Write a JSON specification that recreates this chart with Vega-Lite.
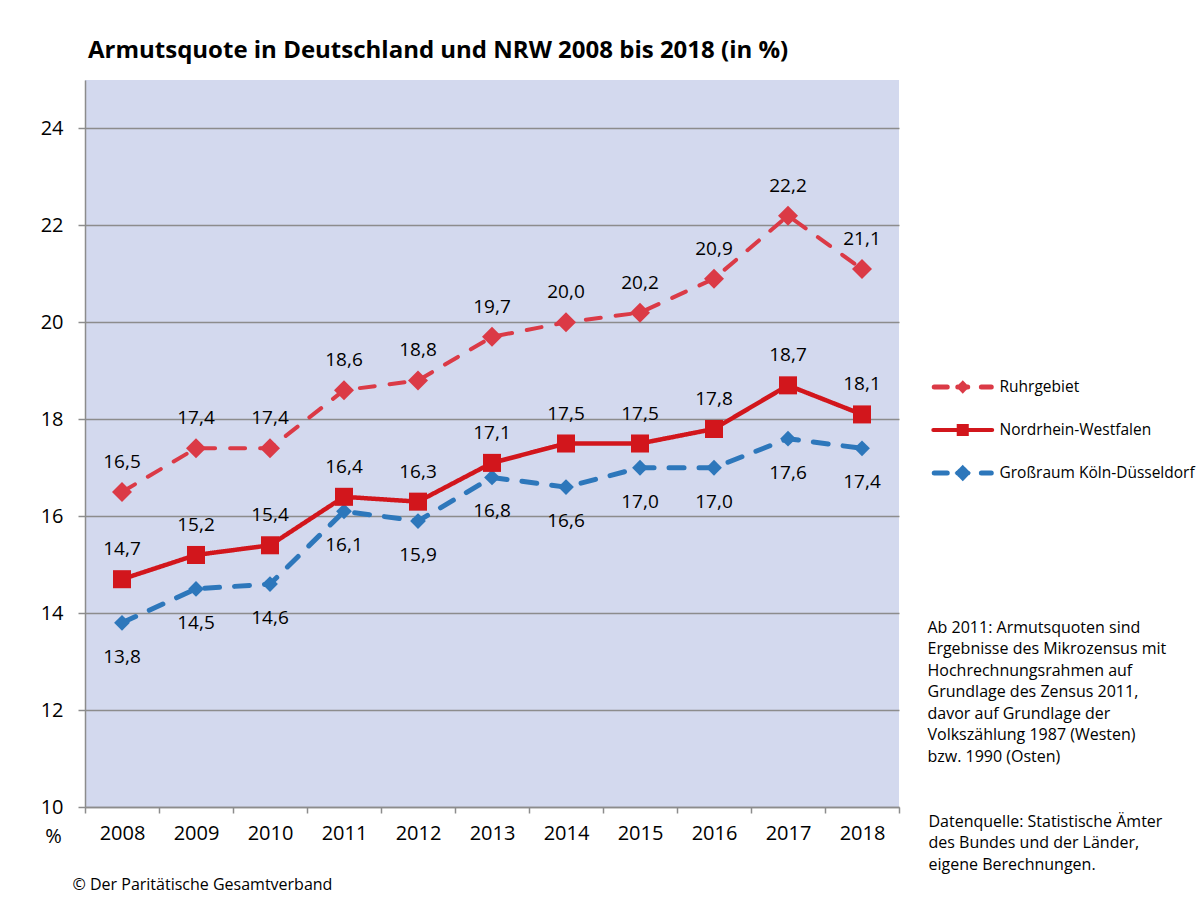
{
  "$schema": "https://vega.github.io/schema/vega-lite/v6.json",
  "width": 814,
  "height": 727,
  "autosize": {"type": "none"},
  "padding": {"left": 85, "top": 80, "right": 298, "bottom": 98},
  "background": "white",
  "config": {
    "font": "Open Sans",
    "view": {"fill": "#d3d9ee", "stroke": null},
    "locale": {"number": {"decimal": ",", "thousands": ".", "grouping": [3], "currency": ["", " €"]}}
  },
  "title": {
    "text": "Armutsquote in Deutschland und NRW 2008 bis 2018 (in %)",
    "anchor": "start",
    "frame": "group",
    "font": "Open Sans",
    "fontSize": 24,
    "fontWeight": "bold",
    "color": "#000000",
    "baseline": "alphabetic",
    "offset": 23,
    "dx": 3,
    "dy": 25
  },
  "data": {
    "values": [
      {"year": "2008", "series": "Ruhrgebiet", "value": 16.5},
      {"year": "2009", "series": "Ruhrgebiet", "value": 17.4},
      {"year": "2010", "series": "Ruhrgebiet", "value": 17.4},
      {"year": "2011", "series": "Ruhrgebiet", "value": 18.6},
      {"year": "2012", "series": "Ruhrgebiet", "value": 18.8},
      {"year": "2013", "series": "Ruhrgebiet", "value": 19.7},
      {"year": "2014", "series": "Ruhrgebiet", "value": 20.0},
      {"year": "2015", "series": "Ruhrgebiet", "value": 20.2},
      {"year": "2016", "series": "Ruhrgebiet", "value": 20.9},
      {"year": "2017", "series": "Ruhrgebiet", "value": 22.2},
      {"year": "2018", "series": "Ruhrgebiet", "value": 21.1},
      {"year": "2008", "series": "Großraum Köln-Düsseldorf", "value": 13.8},
      {"year": "2009", "series": "Großraum Köln-Düsseldorf", "value": 14.5},
      {"year": "2010", "series": "Großraum Köln-Düsseldorf", "value": 14.6},
      {"year": "2011", "series": "Großraum Köln-Düsseldorf", "value": 16.1},
      {"year": "2012", "series": "Großraum Köln-Düsseldorf", "value": 15.9},
      {"year": "2013", "series": "Großraum Köln-Düsseldorf", "value": 16.8},
      {"year": "2014", "series": "Großraum Köln-Düsseldorf", "value": 16.6},
      {"year": "2015", "series": "Großraum Köln-Düsseldorf", "value": 17.0},
      {"year": "2016", "series": "Großraum Köln-Düsseldorf", "value": 17.0},
      {"year": "2017", "series": "Großraum Köln-Düsseldorf", "value": 17.6},
      {"year": "2018", "series": "Großraum Köln-Düsseldorf", "value": 17.4},
      {"year": "2008", "series": "Nordrhein-Westfalen", "value": 14.7},
      {"year": "2009", "series": "Nordrhein-Westfalen", "value": 15.2},
      {"year": "2010", "series": "Nordrhein-Westfalen", "value": 15.4},
      {"year": "2011", "series": "Nordrhein-Westfalen", "value": 16.4},
      {"year": "2012", "series": "Nordrhein-Westfalen", "value": 16.3},
      {"year": "2013", "series": "Nordrhein-Westfalen", "value": 17.1},
      {"year": "2014", "series": "Nordrhein-Westfalen", "value": 17.5},
      {"year": "2015", "series": "Nordrhein-Westfalen", "value": 17.5},
      {"year": "2016", "series": "Nordrhein-Westfalen", "value": 17.8},
      {"year": "2017", "series": "Nordrhein-Westfalen", "value": 18.7},
      {"year": "2018", "series": "Nordrhein-Westfalen", "value": 18.1}
    ]
  },
  "layer": [
    {
      "encoding": {
        "x": {
          "field": "year",
          "type": "ordinal",
          "bandPosition": 0.5,
          "scale": {"type": "band", "paddingInner": 0, "paddingOuter": 0},
          "axis": {
            "tickBand": "extent",
            "labelAngle": 0,
            "labelFontSize": 20,
            "labelColor": "#000000",
            "labelBaseline": "middle",
            "labelPadding": 20,
            "tickSize": 6,
            "tickColor": "#8c8c8c",
            "tickWidth": 1.5,
            "domainColor": "#8c8c8c",
            "domainWidth": 1.5,
            "grid": false,
            "title": "© Der Paritätische Gesamtverband",
            "titleX": -13,
            "titleY": 77,
            "titleAlign": "left",
            "titleBaseline": "middle",
            "titleFontSize": 16,
            "titleFontWeight": "normal",
            "titleColor": "#000000"
          }
        },
        "y": {
          "field": "value",
          "type": "quantitative",
          "scale": {"domain": [10, 25], "nice": false, "zero": false},
          "axis": {
            "values": [10, 12, 14, 16, 18, 20, 22, 24],
            "grid": true,
            "gridColor": "#8c8c8c",
            "gridWidth": 1.5,
            "tickSize": 7,
            "tickColor": "#8c8c8c",
            "tickWidth": 1.5,
            "domainColor": "#8c8c8c",
            "domainWidth": 1.5,
            "labelFontSize": 20,
            "labelColor": "#000000",
            "labelPadding": 15,
            "title": "%",
            "titleAngle": 0,
            "titleX": -32,
            "titleY": 756,
            "titleAlign": "center",
            "titleBaseline": "middle",
            "titleFontSize": 20,
            "titleFontWeight": "normal",
            "titleColor": "#000000"
          }
        }
      },
      "layer": [
        {
          "mark": {"type": "line", "strokeCap": "round", "strokeJoin": "round"},
          "encoding": {
            "color": {
              "field": "series",
              "type": "nominal",
              "scale": {
                "domain": ["Ruhrgebiet", "Nordrhein-Westfalen", "Großraum Köln-Düsseldorf"],
                "range": ["#db3a46", "#d2161c", "#2d77bb"]
              },
              "legend": {
                "title": null,
                "orient": "none",
                "legendX": 845,
                "legendY": 297,
                "padding": 0,
                "symbolSize": 3844,
                "symbolOffset": 25,
                "symbolStrokeWidth": 4,
                "labelFontSize": 15.5,
                "labelColor": "#000000",
                "labelOffset": 29,
                "labelLimit": 400,
                "clipHeight": 20,
                "rowPadding": 23,
                "encoding": {
                  "symbols": {
                    "shape": {"value": {"expr": "datum.value === 'Nordrhein-Westfalen' ? 'M-0.95,0H0.95M-0.13,-0.13H0.13V0.13H-0.13Z' : datum.value === 'Ruhrgebiet' ? 'M-0.92,0H-0.5M-0.16,0H0.16M-0.1,0L0,-0.1L0.1,0L0,0.1ZM0.6,0H0.92' : 'M-0.92,0H-0.5M-0.16,0H0.16M-0.15,0L0,-0.15L0.15,0L0,0.15ZM0.6,0H0.92'"}},
                    "fill": {"value": {"expr": "scale('color', datum.value)"}},
                    "stroke": {"value": {"expr": "scale('color', datum.value)"}},
                    "strokeWidth": {"value": {"expr": "datum.value === 'Nordrhein-Westfalen' ? 4 : 5"}},
                    "strokeDash": {"value": [1, 0]},
                    "strokeCap": {"value": "round"},
                    "size": {"value": 3844},
                    "opacity": {"value": 1}
                  }
                }
              }
            },
            "strokeDash": {
              "field": "series",
              "type": "nominal",
              "scale": {"range": [[15, 15], [1, 0], [15, 15]]},
              "legend": null
            },
            "strokeWidth": {
              "field": "series",
              "type": "nominal",
              "scale": {"range": [5, 4, 5]},
              "legend": null
            }
          }
        },
        {
          "mark": {"type": "point", "filled": true, "opacity": 1},
          "encoding": {
            "color": {"field": "series", "type": "nominal"},
            "shape": {
              "field": "series",
              "type": "nominal",
              "scale": {"range": ["diamond", "square", "diamond"]},
              "legend": null
            },
            "size": {
              "field": "series",
              "type": "nominal",
              "scale": {"range": [250, 400, 220]},
              "legend": null
            }
          }
        },
        {
          "transform": [{"filter": "datum.series !== 'Großraum Köln-Düsseldorf'"}],
          "mark": {"type": "text", "dy": -30, "fontSize": 19, "color": "#000000", "baseline": "middle"},
          "encoding": {
            "text": {"field": "value", "type": "quantitative", "format": ".1f"}
          }
        },
        {
          "transform": [{"filter": "datum.series === 'Großraum Köln-Düsseldorf'"}],
          "mark": {"type": "text", "dy": 34, "fontSize": 19, "color": "#000000", "baseline": "middle"},
          "encoding": {
            "text": {"field": "value", "type": "quantitative", "format": ".1f"}
          }
        }
      ]
    },
    {
      "mark": {"type": "point", "opacity": 0},
      "encoding": {
        "x": {
          "field": "year",
          "type": "ordinal",
          "scale": {"type": "band", "paddingInner": 0, "paddingOuter": 0},
          "axis": {
            "orient": "top",
            "labels": false,
            "ticks": false,
            "domain": false,
            "grid": false,
            "title": [
              "Datenquelle: Statistische Ämter",
              "des Bundes und der Länder,",
              "eigene Berechnungen."
            ],
            "titleAngle": 0,
            "titleX": 843,
            "titleY": 746,
            "titleAlign": "left",
            "titleBaseline": "alphabetic",
            "titleFontSize": 16,
            "titleFontWeight": "normal",
            "titleLineHeight": 21.5,
            "titleColor": "#000000"
          }
        },
        "y": {
          "field": "value",
          "type": "quantitative",
          "scale": {"domain": [10, 25], "nice": false, "zero": false},
          "axis": {
            "orient": "right",
            "labels": false,
            "ticks": false,
            "domain": false,
            "grid": false,
            "title": [
              "Ab 2011: Armutsquoten sind",
              "Ergebnisse des Mikrozensus mit",
              "Hochrechnungsrahmen auf",
              "Grundlage des Zensus 2011,",
              "davor auf Grundlage der",
              "Volkszählung 1987 (Westen)",
              "bzw. 1990 (Osten)"
            ],
            "titleAngle": 0,
            "titleX": 28,
            "titleY": 552,
            "titleAlign": "left",
            "titleBaseline": "alphabetic",
            "titleFontSize": 16,
            "titleFontWeight": "normal",
            "titleLineHeight": 21.5,
            "titleColor": "#000000"
          }
        }
      }
    }
  ],
  "resolve": {"scale": {"y": "independent", "x": "independent"}}
}
